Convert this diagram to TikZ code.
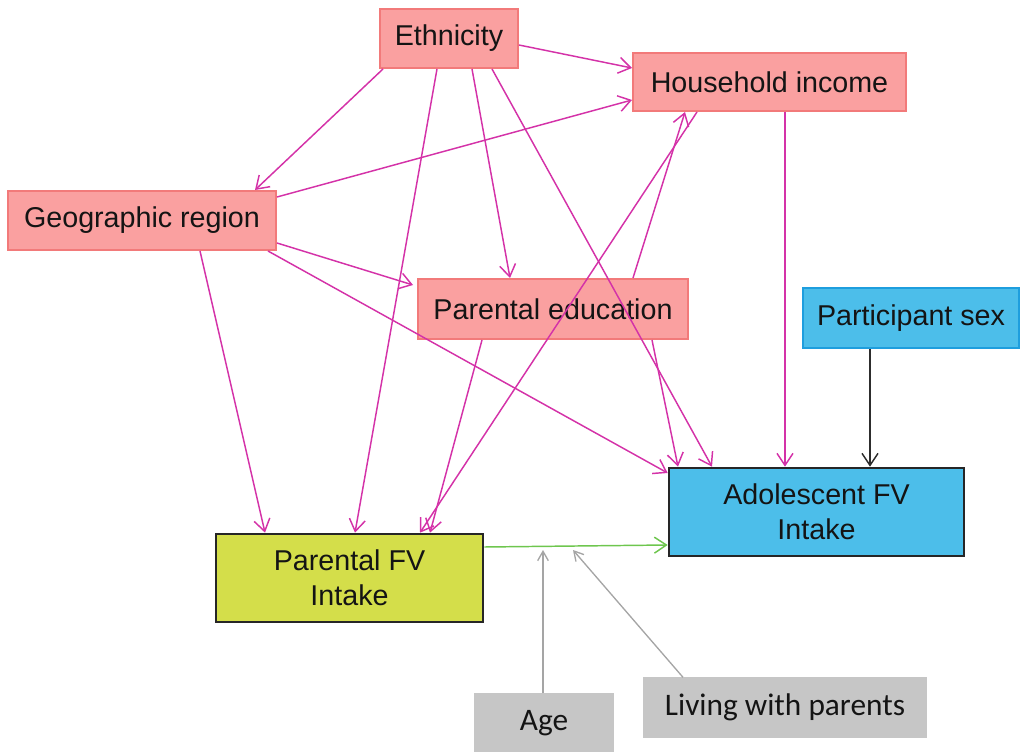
\documentclass[tikz,border=0pt]{standalone}
\usepackage{fontspec}
\setmainfont{Liberation Sans}
\newfontfamily\calfont{Carlito}
\usetikzlibrary{arrows.meta}
\newlength\pxu
\setlength\pxu{0.75pt}
\definecolor{pinkfill}{RGB}{250,160,160}
\definecolor{pinkdraw}{RGB}{242,122,122}
\definecolor{magline}{RGB}{212,50,168}
\definecolor{cyanfill}{RGB}{76,190,234}
\definecolor{cyandraw}{RGB}{30,158,222}
\definecolor{limefill}{RGB}{212,222,74}
\definecolor{grayfill}{RGB}{198,198,198}
\definecolor{grayline}{RGB}{165,165,165}
\definecolor{greenline}{RGB}{110,198,78}
\definecolor{darkline}{RGB}{45,45,45}
\definecolor{txt}{RGB}{20,20,20}
\tikzset{
  box/.style={rectangle, inner sep=0pt, align=center, text=txt,
    font=\fontsize{21.5}{26.5}\selectfont},
  confbox/.style={box, fill=pinkfill, draw=pinkdraw, line width=1.5pt},
  sexbox/.style={box, fill=cyanfill, draw=cyandraw, line width=1.5pt},
  outbox/.style={box, draw=black!85, line width=2pt},
  graybox/.style={box, fill=grayfill, draw=grayfill, line width=1pt,
    font=\calfont\fontsize{23.5}{28}\selectfont},
  mag/.style={draw=magline, line width=1.1pt, -{Straight Barb[length=9pt,width=12pt]}},
  blk/.style={draw=darkline, line width=1.1pt, -{Straight Barb[length=9pt,width=12pt]}},
  grn/.style={draw=greenline, line width=1.1pt, -{Straight Barb[length=9pt,width=12pt]}},
  gry/.style={draw=grayline, line width=1pt, -{Straight Barb[length=7pt,width=8pt]}}
}
\begin{document}
\begin{tikzpicture}[x=0.75pt, y=-0.75pt]
\useasboundingbox (0,0) rectangle (1021,752);
\node[confbox, minimum width=138\pxu, minimum height=59\pxu] (eth) at (449,38.5) {Ethnicity};
\node[confbox, minimum width=273\pxu, minimum height=58\pxu] (inc) at (769.5,82) {Household income};
\node[confbox, minimum width=268\pxu, minimum height=59\pxu] (geo) at (142,220.5) {Geographic region};
\node[confbox, minimum width=270\pxu, minimum height=60\pxu] (edu) at (553,309) {Parental education};
\node[sexbox, minimum width=216\pxu, minimum height=60\pxu] (sex) at (911,318) {Participant sex};
\node[outbox, fill=cyanfill, minimum width=295\pxu, minimum height=88\pxu] (afv) at (816.5,512) {Adolescent FV\\Intake};
\node[outbox, fill=limefill, minimum width=267\pxu, minimum height=88\pxu] (pfv) at (349.5,578) {Parental FV\\Intake};
\node[graybox, minimum width=138\pxu, minimum height=58\pxu] (age) at (544,723) {Age};
\node[graybox, minimum width=282\pxu, minimum height=59\pxu] (liv) at (785,707.5) {Living with parents};
\coordinate (m1) at (543,550);
\coordinate (m2) at (573,550);
% ethnicity
\draw[mag] ([yshift=-6.5\pxu]eth.east) -- ([yshift=14\pxu]inc.west);
\draw[mag] ([xshift=-66\pxu]eth.south) -- ([xshift=113\pxu]geo.north);
\draw[mag] ([xshift=-12\pxu]eth.south) -- ([xshift=5.5\pxu]pfv.north);
\draw[mag] ([xshift=23\pxu]eth.south) -- ([xshift=-43\pxu]edu.north);
\draw[mag] ([xshift=43\pxu]eth.south) -- ([xshift=-104.5\pxu]afv.north);
% geographic region
\draw[mag] ([yshift=23.5\pxu]geo.east) -- ([yshift=-18\pxu]inc.west);
\draw[mag] ([yshift=-22.5\pxu]geo.east) -- ([xshift=-4\pxu,yshift=24\pxu]edu.west);
\draw[mag] ([xshift=126\pxu]geo.south) -- ([yshift=39\pxu]afv.west);
\draw[mag] ([xshift=58\pxu]geo.south) -- ([xshift=-84.5\pxu]pfv.north);
% household income
\draw[mag] ([xshift=-72.5\pxu]inc.south) -- ([xshift=70.5\pxu]pfv.north);
\draw[mag] ([xshift=15.5\pxu]inc.south) -- ([xshift=-31.5\pxu]afv.north);
% parental education
\draw[mag] ([xshift=80\pxu]edu.north) -- ([xshift=-84.5\pxu]inc.south);
\draw[mag] ([xshift=-71\pxu]edu.south) -- ([xshift=80.5\pxu]pfv.north);
\draw[mag] ([xshift=99\pxu]edu.south) -- ([xshift=-138.5\pxu]afv.north);
% participant sex
\draw[blk] ([xshift=-41\pxu]sex.south) -- ([xshift=53.5\pxu]afv.north);
% exposure -> outcome
\draw[grn] ([yshift=31\pxu]pfv.east) -- ([yshift=-33\pxu]afv.west);
% modifiers
\draw[gry] ([xshift=-1\pxu]age.north) -- (m1);
\draw[gry] ([xshift=-102\pxu]liv.north) -- (m2);
\end{tikzpicture}
\end{document}
